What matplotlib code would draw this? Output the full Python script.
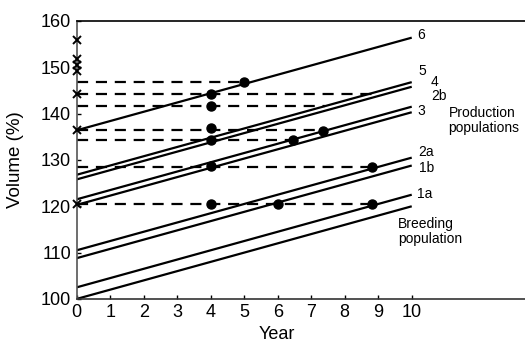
import matplotlib
matplotlib.use("Agg")
import matplotlib.pyplot as plt

plt.rcParams['font.family'] = ['Liberation Sans', 'DejaVu Sans']

# Growth lines: volume at year 0 and year 10
line_names = ["6", "5", "4", "2b", "3", "2a", "1b", "1a", "base"]
line_start = [136.4, 126.8, 125.8, 121.5, 120.3, 110.5, 108.8, 102.5, 100.0]
line_end = [156.4, 146.8, 145.8, 141.5, 140.3, 130.5, 128.8, 122.5, 120.0]
years_span = [0, 10]

# Dashed reference levels and where each one stops
dash_levels = [146.8, 144.2, 141.6, 136.5, 134.3, 128.5, 120.5]
dash_stop = [5.0, 8.8, 7.4, 7.35, 6.45, 8.8, 8.8]

# Selection points
dot_x = [5.0, 4, 4, 4, 4, 4, 4, 6.45, 7.35, 6.0, 8.8, 8.8]
dot_y = [146.8, 144.2, 141.6, 136.8, 134.3, 128.6, 120.5, 134.3, 136.3, 120.5, 128.5, 120.5]

# Starting values marked on the volume axis
cross_y = [156.0, 151.8, 150.5, 149.1, 144.2, 136.4, 120.5]

# Line labels
label_text = ["6", "5", "4", "2b", "3", "2a", "1b", "1a"]
label_x = [10.27, 10.33, 10.67, 10.8, 10.28, 10.43, 10.43, 10.4]
label_y = [157.0, 149.1, 146.9, 143.7, 140.6, 131.8, 128.3, 122.6]

x_ticks = list(range(0, 11))
y_ticks = [100, 110, 120, 130, 140, 150, 160]

fig = plt.figure(figsize=(5.25, 3.44), dpi=100)
ax = fig.add_axes([0.146, 0.131, 0.854, 0.808])

for s, e in zip(line_start, line_end):
    ax.plot(years_span, [s, e], color="black", lw=1.6, solid_capstyle="butt")

for lvl, stop in zip(dash_levels, dash_stop):
    ax.plot([0, stop], [lvl, lvl], color="black", lw=1.6,
            dashes=(5, 3.5))

ax.plot(dot_x, dot_y, "o", color="black", ms=6.5, zorder=5)
ax.plot([0] * len(cross_y), cross_y, "x", color="black", ms=6, mew=1.4,
        clip_on=False, zorder=6)

for t, x, y in zip(label_text, label_x, label_y):
    ax.text(x, y, t, ha="center", va="center", fontsize=10)

ax.text(11.1, 138.6, "Production\npopulations", ha="left", va="center",
        fontsize=10, linespacing=1.1)
ax.text(9.6, 114.5, "Breeding\npopulation", ha="left", va="center",
        fontsize=10, linespacing=1.1)

ax.set_xlim(0, 13.38)
ax.set_ylim(100, 160)
ax.set_xticks(x_ticks)
ax.set_yticks(y_ticks)
ax.tick_params(direction="in", length=3, width=1, labelsize=13)
ax.tick_params(axis="y", pad=4)
ax.tick_params(axis="x", pad=4)

ax.spines["right"].set_visible(False)
for side in ["left", "bottom", "top"]:
    ax.spines[side].set_linewidth(1.2)
ax.spines["left"].set_color("#555555")
ax.spines["bottom"].set_color("#333333")

ax.set_ylabel("Volume (%)", fontsize=13.5)
ax.yaxis.set_label_coords(-0.118, 0.5)
ax.set_xlabel("Year", fontsize=13)
ax.xaxis.set_label_coords(0.447, -0.098)

fig.savefig("out.png", dpi=100)
